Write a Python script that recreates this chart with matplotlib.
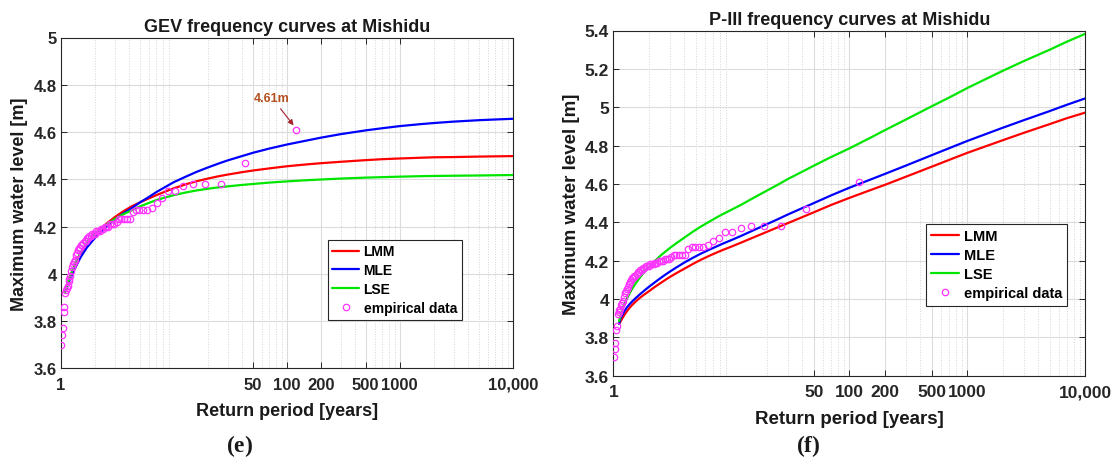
import matplotlib
matplotlib.use("Agg")
import matplotlib.pyplot as plt
from matplotlib.ticker import FixedLocator, NullFormatter

plt.rcParams['font.family'] = ['Liberation Sans', 'DejaVu Sans']
plt.rcParams['font.weight'] = 'bold'
plt.rcParams['axes.labelweight'] = 'bold'
plt.rcParams['axes.titleweight'] = 'bold'
plt.rcParams['mathtext.fontset'] = 'custom'
plt.rcParams['mathtext.rm'] = 'Liberation Serif'
plt.rcParams['mathtext.bf'] = 'Liberation Serif:bold'

# ---------------- data ----------------
# empirical data (return period [years], maximum water level [m])
emp_T = [119.86, 43.03, 26.22, 18.85, 14.72, 12.07, 10.23, 8.878, 7.841, 7.021,
         6.356, 5.806, 5.344, 4.950, 4.610, 4.314, 4.053, 3.822, 3.616, 3.431,
         3.265, 3.113, 2.975, 2.849, 2.733, 2.626, 2.527, 2.435, 2.350, 2.271,
         2.196, 2.127, 2.061, 2.000, 1.942, 1.888, 1.836, 1.787, 1.741, 1.697,
         1.655, 1.615, 1.577, 1.541, 1.506, 1.473, 1.442, 1.411, 1.382, 1.354,
         1.328, 1.302, 1.277, 1.253, 1.230, 1.208, 1.187, 1.166, 1.146, 1.127,
         1.108, 1.090, 1.073, 1.056, 1.040, 1.024, 1.008]
emp_level = [4.61, 4.47, 4.38, 4.38, 4.38, 4.37, 4.35, 4.35, 4.32, 4.30,
             4.28, 4.27, 4.27, 4.27, 4.27, 4.26, 4.23, 4.23, 4.23, 4.23,
             4.23, 4.22, 4.21, 4.21, 4.21, 4.20, 4.20, 4.20, 4.19, 4.19,
             4.18, 4.18, 4.18, 4.17, 4.17, 4.17, 4.16, 4.16, 4.15, 4.15,
             4.14, 4.14, 4.13, 4.12, 4.12, 4.11, 4.11, 4.10, 4.09, 4.08,
             4.06, 4.05, 4.04, 4.03, 4.01, 3.99, 3.98, 3.97, 3.95, 3.94,
             3.93, 3.92, 3.86, 3.84, 3.77, 3.74, 3.70]

# GEV frequency curves (panel e)
gev_T = [1.08, 1.1, 1.12, 1.15, 1.2, 1.25, 1.3, 1.4, 1.5, 1.7,
         2.0, 2.3, 2.6, 3.0, 3.5, 4.2, 5, 6, 7, 8.5,
         10, 13, 16, 20, 25, 30, 40, 50, 70, 100,
         150, 200, 300, 500, 700, 1000, 1500, 2000, 3000, 5000,
         7000, 10000]
gev_lmm = [3.92, 3.932, 3.944, 3.96, 3.985, 4.007, 4.027, 4.06, 4.088, 4.128,
           4.168, 4.196, 4.217, 4.24, 4.262, 4.285, 4.302, 4.319, 4.333, 4.349,
           4.362, 4.380, 4.392, 4.403, 4.413, 4.420, 4.430, 4.437, 4.446, 4.455,
           4.463, 4.468, 4.474, 4.481, 4.485, 4.488, 4.491, 4.493, 4.494, 4.496,
           4.497, 4.498]
gev_mle = [3.92, 3.93, 3.94, 3.954, 3.976, 3.995, 4.013, 4.044, 4.072, 4.112,
           4.152, 4.181, 4.204, 4.229, 4.253, 4.277, 4.302, 4.325, 4.346, 4.369,
           4.388, 4.413, 4.432, 4.450, 4.467, 4.480, 4.498, 4.512, 4.530, 4.547,
           4.564, 4.576, 4.591, 4.607, 4.616, 4.625, 4.633, 4.638, 4.644, 4.650,
           4.653, 4.656]
gev_lse = [3.92, 3.933, 3.945, 3.962, 3.988, 4.01, 4.03, 4.064, 4.092, 4.133,
           4.172, 4.194, 4.213, 4.232, 4.25, 4.268, 4.285, 4.30, 4.312, 4.324,
           4.333, 4.345, 4.353, 4.36, 4.366, 4.37, 4.376, 4.38, 4.386, 4.391,
           4.396, 4.399, 4.403, 4.407, 4.409, 4.411, 4.413, 4.414, 4.415, 4.416,
           4.417, 4.418]

# P-III frequency curves (panel f)
p3_T = [1.12, 1.15, 1.2, 1.25, 1.3, 1.37, 1.45, 1.55, 1.65, 1.8,
        2.0, 2.25, 2.5, 2.75, 3.0, 3.5, 4.0, 4.7, 5.5, 6.5,
        7.5, 8.5, 10, 12, 15, 20, 25, 30, 40, 50,
        70, 100, 150, 200, 300, 500, 700, 1000, 2000, 3000,
        5000, 7000, 10000]
p3_lmm = [3.87, 3.882, 3.902, 3.92, 3.935, 3.953, 3.97, 3.987, 4.002, 4.02,
          4.04, 4.063, 4.082, 4.099, 4.114, 4.138, 4.158, 4.182, 4.204, 4.225,
          4.242, 4.256, 4.273, 4.293, 4.318, 4.35, 4.375, 4.395, 4.427, 4.452,
          4.49, 4.527, 4.567, 4.595, 4.637, 4.69, 4.725, 4.762, 4.828, 4.866,
          4.912, 4.943, 4.972]
p3_mle = [3.87, 3.898, 3.92, 3.94, 3.955, 3.972, 3.988, 4.005, 4.02, 4.04,
          4.063, 4.087, 4.108, 4.126, 4.142, 4.168, 4.19, 4.214, 4.236, 4.257,
          4.274, 4.289, 4.307, 4.328, 4.355, 4.39, 4.417, 4.44, 4.474, 4.50,
          4.54, 4.58, 4.622, 4.652, 4.695, 4.75, 4.786, 4.824, 4.893, 4.932,
          4.98, 5.013, 5.046]
p3_lse = [3.885, 3.91, 3.95, 3.977, 4.00, 4.028, 4.055, 4.082, 4.105, 4.135,
          4.167, 4.198, 4.225, 4.246, 4.265, 4.295, 4.32, 4.35, 4.377, 4.403,
          4.425, 4.443, 4.465, 4.49, 4.523, 4.565, 4.597, 4.625, 4.664, 4.695,
          4.74, 4.785, 4.84, 4.88, 4.935, 5.005, 5.05, 5.10, 5.19, 5.24,
          5.30, 5.342, 5.383]

x_ticks = [1, 50, 100, 200, 500, 1000, 10000]
x_ticklabels = ['1', '50', '100', '200', '500', '1000', '10,000']
y_ticks_e = [3.6, 3.8, 4.0, 4.2, 4.4, 4.6, 4.8, 5.0]
y_ticklabels_e = ['3.6', '3.8', '4', '4.2', '4.4', '4.6', '4.8', '5']
y_ticks_f = [3.6, 3.8, 4.0, 4.2, 4.4, 4.6, 4.8, 5.0, 5.2, 5.4]
y_ticklabels_f = ['3.6', '3.8', '4', '4.2', '4.4', '4.6', '4.8', '5', '5.2', '5.4']

series_labels = ['LMM', 'MLE', 'LSE', 'empirical data']
series_colors = ['#ff0000', '#0000ff', '#00e600']
emp_color = '#ff33ff'
txt_color = '#262626'

W, H = 1115, 464
fig = plt.figure(figsize=(W / 100, H / 100), dpi=100)
fig.patch.set_facecolor('white')

ax1 = fig.add_axes([61 / W, 1 - 369.3 / H, 451.7 / W, 330.8 / H])
ax2 = fig.add_axes([613.3 / W, 1 - 376.7 / H, 472 / W, 345.2 / H])

minor_pos = [k * 10 ** d for d in range(4) for k in range(2, 10)]


def style(ax, yt, ytl, ylim, fs):
    ax.set_xscale('log')
    ax.set_xlim(1, 10000)
    ax.set_ylim(*ylim)
    ax.xaxis.set_major_locator(FixedLocator(x_ticks))
    ax.set_xticklabels(x_ticklabels)
    ax.xaxis.set_minor_locator(FixedLocator(minor_pos))
    ax.xaxis.set_minor_formatter(NullFormatter())
    ax.set_yticks(yt)
    ax.set_yticklabels(ytl)
    ax.grid(True, which='major', color='#dcdcdc', lw=0.8, ls='-')
    ax.grid(True, which='minor', axis='x', color='#d4d4d4', lw=0.7, ls=':')
    ax.set_axisbelow(True)
    ax.tick_params(which='major', direction='in', length=4, width=0.7,
                   top=True, right=True, labelsize=fs, colors=txt_color)
    ax.tick_params(axis='x', which='major', pad=6)
    ax.tick_params(axis='y', which='major', pad=3)
    ax.tick_params(which='minor', length=0)
    for s in ax.spines.values():
        s.set_color(txt_color)
        s.set_linewidth(0.8)


def draw(ax, T, curves):
    for vals, c, lab in zip(curves, series_colors, series_labels[:3]):
        ax.plot(T, vals, color=c, lw=1.6, label=lab, zorder=3,
                solid_joinstyle='round', solid_capstyle='round')
    ax.plot(emp_T, emp_level, ls='none', marker='o', ms=4.6, mew=0.9,
            mfc='none', mec=emp_color, label=series_labels[3], zorder=4)


# ---------- panel (e) ----------
style(ax1, y_ticks_e, y_ticklabels_e, (3.6, 5.0), 12)
draw(ax1, gev_T, [gev_lmm, gev_mle, gev_lse])
ax1.set_title('GEV frequency curves at Mishidu', fontsize=13, pad=5,
              color='#1a1a1a')
ax1.set_xlabel('Return period [years]', fontsize=13, color='#1a1a1a')
ax1.set_ylabel('Maximum water level [m]', fontsize=13, color='#1a1a1a')
ax1.xaxis.set_label_coords(0.5, -0.103)
ax1.yaxis.set_label_coords(-0.074, 0.5)
leg1 = ax1.legend(loc='upper left', bbox_to_anchor=(0.590, 0.389),
                  borderaxespad=0, fontsize=10, handlelength=1.9,
                  handletextpad=0.35, borderpad=0.35, labelspacing=0.35,
                  fancybox=False, framealpha=1)
leg1.get_frame().set_edgecolor(txt_color)
leg1.get_frame().set_linewidth(0.8)
ax1.annotate('4.61m', xy=(114.7, 4.628), xytext=(73.8, 4.745),
             fontsize=9, color='#b4501e', ha='center', va='center',
             arrowprops=dict(arrowstyle='-|>', color='#a5232d', lw=0.8,
                             mutation_scale=8, shrinkA=2, shrinkB=0))

# ---------- panel (f) ----------
style(ax2, y_ticks_f, y_ticklabels_f, (3.6, 5.4), 12.5)
draw(ax2, p3_T, [p3_lmm, p3_mle, p3_lse])
ax2.set_title('P-III frequency curves at Mishidu', fontsize=13, pad=5,
              color='#1a1a1a')
ax2.set_xlabel('Return period [years]', fontsize=13.5, color='#1a1a1a')
ax2.set_ylabel('Maximum water level [m]', fontsize=13.5, color='#1a1a1a')
ax2.xaxis.set_label_coords(0.5, -0.099)
ax2.yaxis.set_label_coords(-0.070, 0.5)
leg2 = ax2.legend(loc='upper left', bbox_to_anchor=(0.6625, 0.4395),
                  borderaxespad=0, fontsize=10.5, handlelength=1.9,
                  handletextpad=0.35, borderpad=0.35, labelspacing=0.35,
                  fancybox=False, framealpha=1)
leg2.get_frame().set_edgecolor(txt_color)
leg2.get_frame().set_linewidth(0.8)

# panel letters
fig.text(240 / W, 1 - 446 / H, r'$\mathrm{(}\mathbf{e}\mathrm{)}$',
         fontsize=17, ha='center', va='center', color='#1a1a1a')
fig.text(808 / W, 1 - 446 / H, r'$\mathrm{(}\mathbf{f}\mathrm{)}$',
         fontsize=17, ha='center', va='center', color='#1a1a1a')

fig.savefig('out.png', dpi=100, facecolor='white')
